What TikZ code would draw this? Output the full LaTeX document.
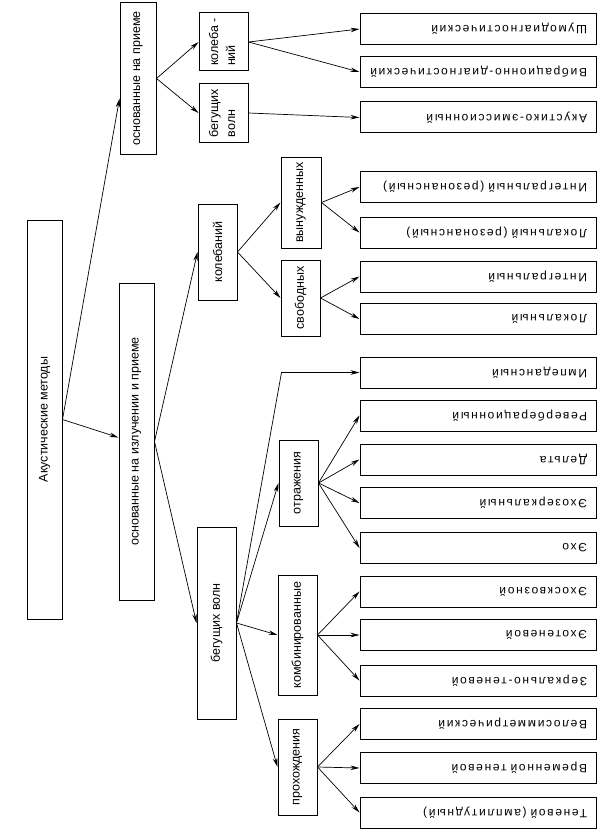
\documentclass[tikz,border=0pt]{standalone}
\usepackage{fontspec}
\setmainfont{Liberation Sans}
\newfontfamily\leaffont[LetterSpace=14,WordSpace=1.8]{Liberation Sans}
\usetikzlibrary{arrows.meta}

\tikzset{
  blk/.style={draw, line width=1pt, inner sep=0pt, font=\fontsize{12.5}{15}\selectfont},
  leaf/.style={draw, line width=1pt, inner sep=0pt, minimum width=236, minimum height=31,
    text width=218, align=right, font=\leaffont\fontsize{12}{14}\selectfont},
  arr/.style={-{Stealth[length=9pt,width=4.5pt]}, line width=0.7pt}
}
\newcommand{\up}[1]{\rotatebox{90}{#1}}
\newcommand{\dn}[1]{\rotatebox{180}{#1}}
\newcommand{\twoup}[2]{\rotatebox{90}{\begin{tabular}{@{}l@{}}#1\\[2pt]#2\end{tabular}}}

\begin{document}
\begin{tikzpicture}[x=1pt,y=-1pt]
\useasboundingbox (0,0) rectangle (601,840);

% Root and first level
\node[blk, minimum width=35, minimum height=399] (root) at (44.5,419.5) {\up{Акустические методы}};
\node[blk, minimum width=36, minimum height=151] (recv) at (138,78.5) {\up{основанные на приеме}};
\node[blk, minimum width=35, minimum height=317] (emit) at (136.5,441.5) {\up{основанные  на излучении  и приеме}};

% Reception
\node[blk, minimum width=49, minimum height=58] (rkol) at (223.5,42) {\twoup{колеба -}{ний}};
\node[blk, minimum width=49, minimum height=58] (rbeg) at (223.5,113) {\twoup{бегущих}{волн}};

% Emission and reception
\node[blk, minimum width=39, minimum height=96] (kol) at (217.5,252) {\up{колебаний}};
\node[blk, minimum width=40, minimum height=91] (vyn) at (301,202.5) {\up{вынужденных}};
\node[blk, minimum width=39, minimum height=76] (svob) at (300.5,298) {\up{свободных}};
\node[blk, minimum width=39, minimum height=192] (beg) at (216.5,623) {\up{бегущих волн}};
\node[blk, minimum width=39, minimum height=86] (otr) at (298.5,483) {\up{отражения}};
\node[blk, minimum width=39, minimum height=120] (komb) at (297.5,635) {\up{комбинированные}};
\node[blk, minimum width=39, minimum height=96] (proh) at (297.5,767) {\up{прохождения}};

% Methods
\node[leaf] (shum) at (478,29) {\dn{Шумодиагностический}};
\node[leaf] (vibr) at (478,72) {\dn{Вибрационно-диагностический}};
\node[leaf] (aemi) at (478,117.5) {\dn{Акустико-эмиссионный}};
\node[leaf] (intr) at (478,187) {\dn{Интегральный  (резонансный)}};
\node[leaf] (lokr) at (478,232.5) {\dn{Локальный  (резонансный)}};
\node[leaf] (intg) at (478,276.5) {\dn{Интегральный}};
\node[leaf] (lokl) at (478,319) {\dn{Локальный}};
\node[leaf] (imped) at (478,372.5) {\dn{Импедансный}};
\node[leaf] (reverb) at (478,415.5) {\dn{Реверберационный}};
\node[leaf] (delta) at (478,459.5) {\dn{Дельта}};
\node[leaf] (ezerk) at (478,503) {\dn{Эхозеркальный}};
\node[leaf] (echo) at (478,548) {\dn{Эхо}};
\node[leaf] (eskv) at (478,591.5) {\dn{Эхосквозной}};
\node[leaf] (etene) at (478,635) {\dn{Эхотеневой}};
\node[leaf] (zerk) at (478,680.5) {\dn{Зеркально-теневой}};
\node[leaf] (velo) at (478,724) {\dn{Велосимметрический}};
\node[leaf] (vrem) at (478,768) {\dn{Временной теневой}};
\node[leaf] (ten) at (478,812.5) {\dn{Теневой  (амплитудный)}};

% Connectors
\draw[arr] (root.east) -- ([yshift=-20pt]recv.west);
\draw[arr] (root.east) -- ([yshift=4pt]emit.west);
\draw[arr] (recv.east) -- (rkol.west);
\draw[arr] (recv.east) -- (rbeg.west);
\draw[arr] (rkol.east) -- (shum.west);
\draw[arr] (rkol.east) -- (vibr.west);
\draw[arr] (rbeg.east) -- (aemi.west);
\draw[arr] (emit.east) -- (kol.west);
\draw[arr] (emit.east) -- (beg.west);
\draw[arr] (kol.east) -- (vyn.west);
\draw[arr] (kol.east) -- (svob.west);
\draw[arr] (vyn.east) -- (intr.west);
\draw[arr] (vyn.east) -- (lokr.west);
\draw[arr] (svob.east) -- (intg.west);
\draw[arr] (svob.east) -- (lokl.west);
\draw[arr] (beg.east) -- ([xshift=-78pt]imped.west) -- (imped.west);
\draw[arr] (beg.east) -- (otr.west);
\draw[arr] (beg.east) -- (komb.west);
\draw[arr] (beg.east) -- (proh.west);
\foreach \t in {reverb,delta,ezerk,echo}
  \draw[arr] (otr.east) -- (\t.west);
\foreach \t in {eskv,etene,zerk}
  \draw[arr] (komb.east) -- (\t.west);
\foreach \t in {velo,vrem,ten}
  \draw[arr] (proh.east) -- (\t.west);

\end{tikzpicture}
\end{document}
